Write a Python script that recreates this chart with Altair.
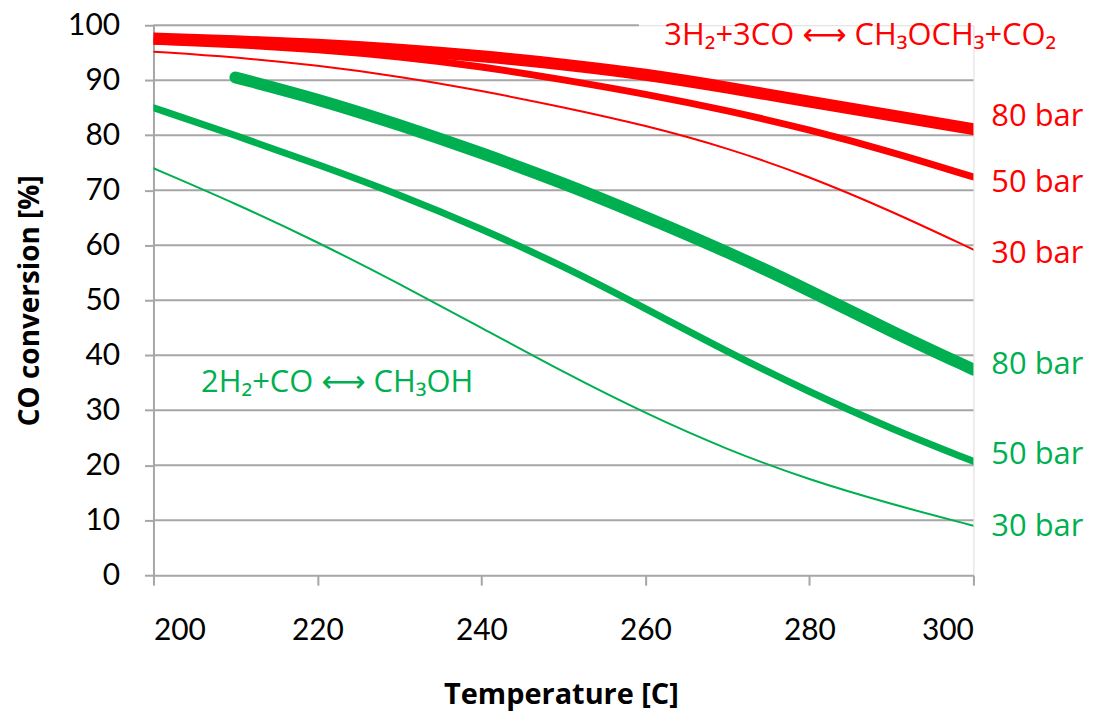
import altair as alt
import pandas as pd

# ---- data ----
temps = [200, 210, 220, 230, 240, 250, 260, 270, 280, 290, 300]
temps_g80 = [210, 220, 230, 240, 250, 260, 270, 280, 290, 300]

dme_80 = [97.6, 97.1, 96.5, 95.6, 94.4, 92.9, 91.1, 88.7, 86.1, 83.6, 81.1]
dme_50 = [97.1, 96.5, 95.6, 94.3, 92.5, 90.1, 87.5, 84.5, 81.0, 77.0, 72.4]
dme_30 = [95.2, 94.2, 92.7, 90.7, 88.1, 85.1, 81.8, 77.7, 72.5, 66.2, 59.2]
meoh_80 = [90.5, 86.6, 81.9, 76.8, 71.3, 65.2, 58.8, 51.8, 44.3, 37.4]
meoh_50 = [85.0, 80.0, 74.7, 69.2, 63.0, 56.2, 48.5, 40.6, 33.3, 26.6, 20.7]
meoh_30 = [74.0, 67.6, 60.6, 53.0, 45.0, 36.9, 29.4, 22.8, 17.3, 12.9, 9.0]

series_names = ["DME 80", "DME 50", "DME 30", "MeOH 80", "MeOH 50", "MeOH 30"]
series_x = [temps, temps, temps, temps_g80, temps, temps]
series_y = [dme_80, dme_50, dme_30, meoh_80, meoh_50, meoh_30]

bar_labels = ["80 bar", "50 bar", "30 bar", "80 bar", "50 bar", "30 bar"]
bar_label_y = [83.3, 71.4, 58.4, 38.3, 21.8, 8.7]

reaction_text = ["3H\u2082+3CO \u27F7 CH\u2083OCH\u2083+CO\u2082", "2H\u2082+CO \u27F7 CH\u2083OH"]
reaction_x = [262.3, 205.8]
reaction_y = [98.0, 34.9]
reaction_group = ["DME 80", "MeOH 80"]

grid_values = [10, 20, 30, 40, 50, 60, 70, 80, 90, 100]
grid_end = [300, 300, 300, 300, 300, 300, 300, 300, 300, 259.2]

x_ticks = [200, 220, 240, 260, 280, 300]
y_ticks = [0, 10, 20, 30, 40, 50, 60, 70, 80, 90, 100]

# ---- styles ----
RED = "#FF0000"
GREEN = "#00B050"
GRID = "#A6A6A6"
NUM_FONT = "Lato, Noto Sans, DejaVu Sans"
TXT_FONT = "Open Sans, Noto Sans, DejaVu Sans"
color_range = [RED, RED, RED, GREEN, GREEN, GREEN]
width_range = [12, 7, 2, 12, 7, 2]

grid_df = pd.DataFrame({"y": grid_values, "x0": [200] * len(grid_values), "x1": grid_end})
labels_df = pd.DataFrame({
    "series": series_names,
    "text": bar_labels,
    "T": [300] * len(series_names),
    "y": bar_label_y,
})
react_df = pd.DataFrame({"series": reaction_group, "text": reaction_text,
                         "T": reaction_x, "y": reaction_y})

xscale = alt.Scale(domain=[200, 300], nice=False, zero=False)
yscale = alt.Scale(domain=[0, 100], nice=False)
cscale = alt.Scale(domain=series_names, range=color_range)

x_axis = alt.Axis(values=x_ticks, grid=False, domainColor=GRID, domainWidth=2,
                  tickColor=GRID, tickWidth=2, tickSize=10, labelFontSize=30,
                  labelFont=NUM_FONT, labelColor="#000000", labelPadding=31,
                  title="Temperature [C]", titleFont=TXT_FONT, titleFontSize=29,
                  titleFontWeight="bold", titleColor="#000000",
                  titleBaseline="alphabetic", titleY=129, titleX=409,
                  titleAlign="center")
y_axis = alt.Axis(values=y_ticks, grid=False, domainColor=GRID, domainWidth=2,
                  tickColor=GRID, tickWidth=2, tickSize=9, labelFontSize=30,
                  labelFont=NUM_FONT, labelColor="#000000", labelPadding=25,
                  title="CO conversion [%]", titleFont=TXT_FONT, titleFontSize=28,
                  titleFontWeight="bold", titleColor="#000000",
                  titleAngle=270, titleBaseline="alphabetic", titleX=-115,
                  titleY=276, titleAlign="center")

grid = alt.Chart(grid_df).mark_rule(color=GRID, strokeWidth=2).encode(
    x=alt.X("x0:Q", scale=xscale, axis=x_axis),
    x2="x1:Q",
    y=alt.Y("y:Q", scale=yscale, axis=y_axis),
)

line_layers = []
for name, xs, ys, col, w in zip(series_names, series_x, series_y, color_range, width_range):
    df = pd.DataFrame({"T": xs, "conv": ys})
    line_layers.append(
        alt.Chart(df).mark_line(interpolate="basis", strokeCap="round",
                                strokeJoin="round", clip=True,
                                color=col, strokeWidth=w).encode(
            x=alt.X("T:Q", scale=xscale),
            y=alt.Y("conv:Q", scale=yscale),
        )
    )

bar_text = alt.Chart(labels_df).mark_text(align="left", baseline="middle", dx=18,
                                          fontSize=31, font=TXT_FONT).encode(
    x=alt.X("T:Q", scale=xscale),
    y=alt.Y("y:Q", scale=yscale),
    text="text:N",
    color=alt.Color("series:N", scale=cscale, legend=None),
)

react_text = alt.Chart(react_df).mark_text(align="left", baseline="middle",
                                           fontSize=31, font=TXT_FONT).encode(
    x=alt.X("T:Q", scale=xscale),
    y=alt.Y("y:Q", scale=yscale),
    text="text:N",
    color=alt.Color("series:N", scale=cscale, legend=None),
)

chart = alt.layer(grid, *line_layers, bar_text, react_text).properties(
    width=823, height=552,
    autosize=alt.AutoSizeParams(type="none"),
    padding={"left": 146, "top": 16, "right": 114, "bottom": 140},
).configure_view(stroke="transparent").configure(background="white")

chart.save("out.html", embed_options={"renderer": "svg", "actions": False})
